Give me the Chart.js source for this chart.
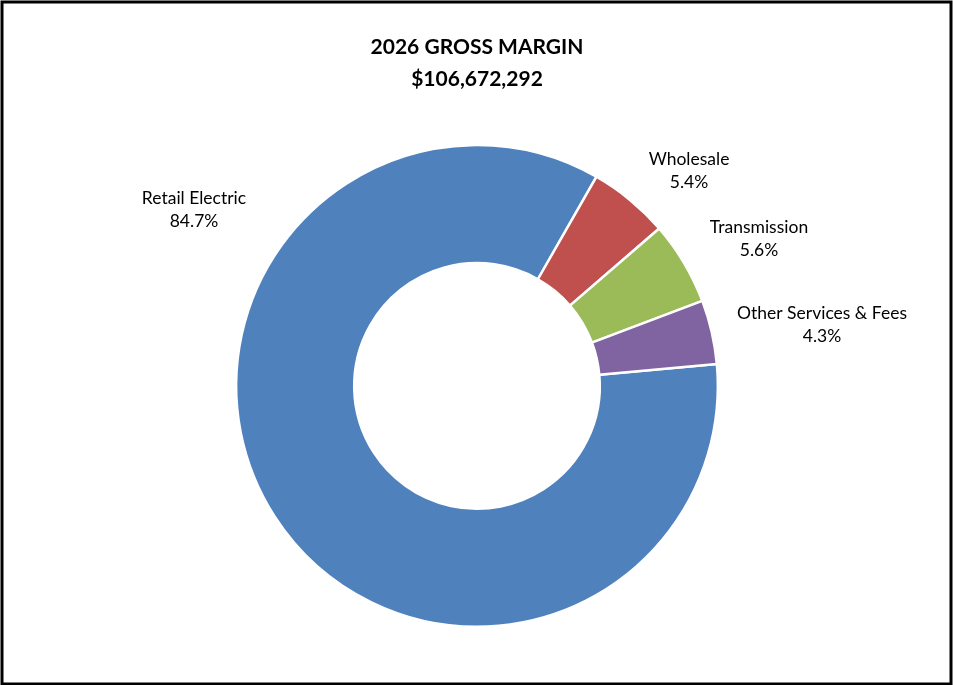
<!DOCTYPE html>
<html>
<head>
<meta charset="utf-8">
<script src="https://cdn.jsdelivr.net/npm/chart.js@4"></script>
<style>
  html, body { margin: 0; padding: 0; background: #fff; }
  #wrap { width: 953px; height: 685px; }
</style>
</head>
<body>
<div id="wrap"><canvas id="marginChart" width="953" height="685"></canvas></div>
<script>
// gross margin split for 2026
const segments = ["Retail Electric", "Wholesale", "Transmission", "Other Services & Fees"];
const shares = [84.7, 5.4, 5.6, 4.3];
const titleLines = ["2026 GROSS MARGIN", "$106,672,292"];

const sliceColors = ["#4F81BD", "#C0504D", "#9BBB59", "#8064A2"];
// label centre offsets from the doughnut centre (px)
const labelOffsets = [[-283, -176], [212, -215], [282, -147], [345, -61]];

const FONT = "Lato, 'Open Sans', sans-serif";

// black frame round the whole chart
const framePlugin = {
  id: "frame",
  afterDraw(chart) {
    const ctx = chart.ctx;
    ctx.save();
    ctx.strokeStyle = "#000";
    ctx.lineWidth = 3;
    ctx.strokeRect(2, 2, chart.width - 4, chart.height - 3);
    ctx.restore();
  }
};

// category name + percentage next to each slice
const sliceLabels = {
  id: "sliceLabels",
  afterDatasetsDraw(chart) {
    const ctx = chart.ctx;
    const arcs = chart.getDatasetMeta(0).data;
    ctx.save();
    ctx.fillStyle = "#000";
    ctx.font = "17.5px " + FONT;
    ctx.textAlign = "center";
    ctx.textBaseline = "middle";
    arcs.forEach((arc, i) => {
      const x = arc.x + labelOffsets[i][0];
      const y = arc.y + labelOffsets[i][1];
      ctx.fillText(segments[i], x, y - 11.5);
      ctx.fillText(shares[i].toFixed(1) + "%", x, y + 11.5);
    });
    ctx.restore();
  }
};

new Chart(document.getElementById("marginChart"), {
  type: "doughnut",
  data: {
    labels: segments,
    datasets: [{
      data: shares,
      backgroundColor: sliceColors,
      borderColor: "#fff",
      borderWidth: 2.5
    }]
  },
  options: {
    responsive: false,
    animation: false,
    rotation: 84.8,
    cutout: "51%",
    layout: { padding: { top: 0, bottom: 57, left: 1, right: 0 } },
    plugins: {
      legend: { display: false },
      tooltip: { enabled: false },
      title: {
        display: true,
        text: titleLines,
        color: "#000",
        font: { family: FONT, size: 21, weight: "bold", lineHeight: 1.52 },
        padding: { top: 31, bottom: 49 }
      }
    }
  },
  plugins: [framePlugin, sliceLabels]
});
</script>
</body>
</html>
